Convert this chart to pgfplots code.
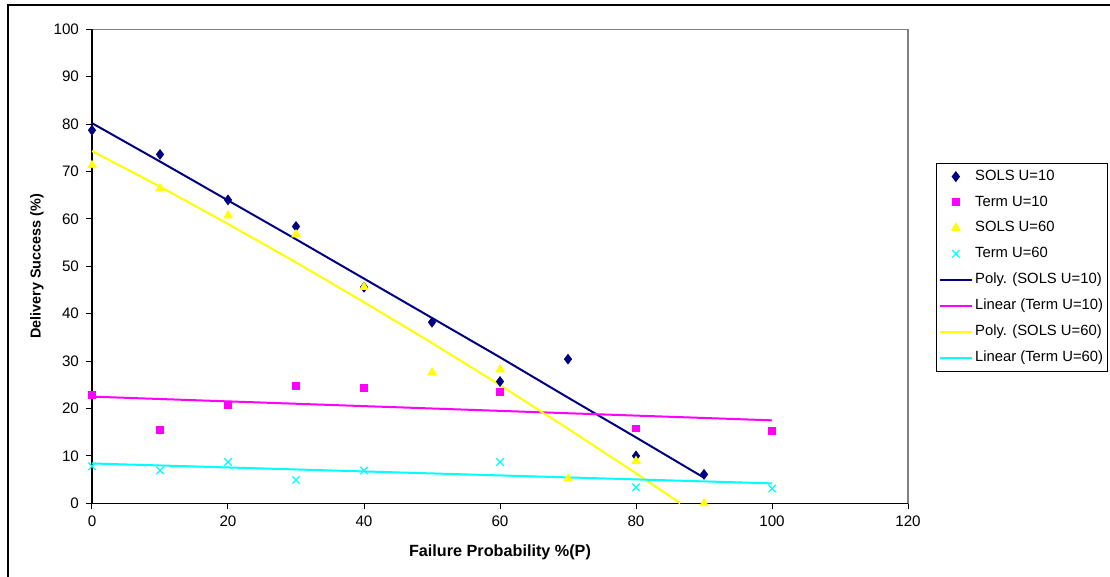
\documentclass[border=0pt]{standalone}
\usepackage{fontspec}
\setmainfont{Liberation Sans}
\usepackage{pgfplots}
\pgfplotsset{compat=1.18}
\definecolor{navyc}{RGB}{0,0,128}
\definecolor{magc}{RGB}{255,0,255}
\definecolor{yelc}{RGB}{255,255,0}
\definecolor{cyac}{RGB}{0,255,255}
\begin{document}
\begin{tikzpicture}[x=1pt,y=1pt]
\path[use as bounding box] (0,0) rectangle (555,288.5);
\draw[line width=0.6pt] (4,-5) -- (4,286) -- (560,286);
\begin{axis}[
  at={(46pt,36.85pt)}, anchor=south west,
  scale only axis, width=408pt, height=237pt,
  xmin=0, xmax=120, ymin=0, ymax=100,
  xtick={0,20,...,120}, ytick={0,10,...,100},
  axis line style={gray, line width=0.6pt},
  xtick pos=bottom, ytick pos=left,
  tick align=outside, major tick length=3pt,
  tick style={black, line width=0.5pt},
  every tick label/.append style={font=\fontsize{7.6}{9}\selectfont},
  /pgf/number format/assume math mode=true,
  xlabel={Failure Probability \%(P)},
  ylabel={Delivery Success (\%)},
  x label style={font=\fontsize{8.1}{9.5}\selectfont\bfseries, at={(axis description cs:0.5,-0.103)}, anchor=center},
  y label style={font=\fontsize{7.2}{9}\selectfont\bfseries, at={(axis description cs:-0.0674,0.5)}, anchor=center},
  clip=false,
  legend style={at={(1.0343,0.7178)}, anchor=north west, draw=black, line width=0.5pt,
    font=\fontsize{7.4}{9}\selectfont, row sep=2.2pt, inner sep=1.2pt, nodes={inner xsep=1.2pt}},
  legend cell align=left,
  legend image code/.code={\draw[mark repeat=2,mark phase=2,#1] plot coordinates {(0cm,0cm) (0.28cm,0cm) (0.56cm,0cm)};},
]
\draw[black, line width=0.6pt] (rel axis cs:0,1) -- (rel axis cs:0,0) -- (rel axis cs:1,0);
% trend lines
\addplot[navyc, line width=1pt, forget plot] coordinates {(0,80.2)(10,72.1)(20,63.9)(30,55.7)(40,47.4)(50,39.1)(60,30.8)(70,22.3)(80,13.9)(90,5.4)};
\addplot[magc, line width=1pt, forget plot] coordinates {(0,22.5)(100,17.5)};
\addplot[yelc, line width=1pt, forget plot] coordinates {(0,74.3)(10,66.8)(20,58.9)(30,50.8)(40,42.4)(50,33.8)(60,24.9)(70,15.7)(80,6.3)(86.5,0)};
\addplot[cyac, line width=1pt, forget plot] coordinates {(0,8.4)(100,4.2)};
% scatter series
\addplot[only marks, mark=diamond*, mark size=2.4pt, draw=navyc, fill=navyc] coordinates {(0,78.7)(10,73.6)(20,64.0)(30,58.4)(40,45.6)(50,38.2)(60,25.7)(70,30.4)(80,10.0)(90,6.1)};
\addlegendentry{SOLS U=10}
\addplot[only marks, mark=square*, mark size=1.7pt, draw=magc, fill=magc] coordinates {(0,22.8)(10,15.4)(20,20.7)(30,24.7)(40,24.4)(60,23.5)(80,15.8)(100,15.2)};
\addlegendentry{Term U=10}
\addplot[only marks, mark=triangle*, mark size=2.4pt, draw=yelc, fill=yelc] coordinates {(0,71.3)(10,66.4)(20,60.7)(30,56.7)(40,45.6)(50,27.6)(60,28.2)(70,5.2)(80,8.9)(90,0)};
\addlegendentry{SOLS U=60}
\addplot[only marks, mark=x, mark size=2.6pt, draw=cyac, line width=0.6pt] coordinates {(0,7.8)(10,6.9)(20,8.7)(30,4.9)(40,6.9)(60,8.7)(80,3.4)(100,3.1)};
\addlegendentry{Term U=60}
\addlegendimage{navyc, line width=1pt}
\addlegendentry{Poly. (SOLS U=10)}
\addlegendimage{magc, line width=1pt}
\addlegendentry{Linear (Term U=10)}
\addlegendimage{yelc, line width=1pt}
\addlegendentry{Poly. (SOLS U=60)}
\addlegendimage{cyac, line width=1pt}
\addlegendentry{Linear (Term U=60)}
\end{axis}
\end{tikzpicture}
\end{document}
